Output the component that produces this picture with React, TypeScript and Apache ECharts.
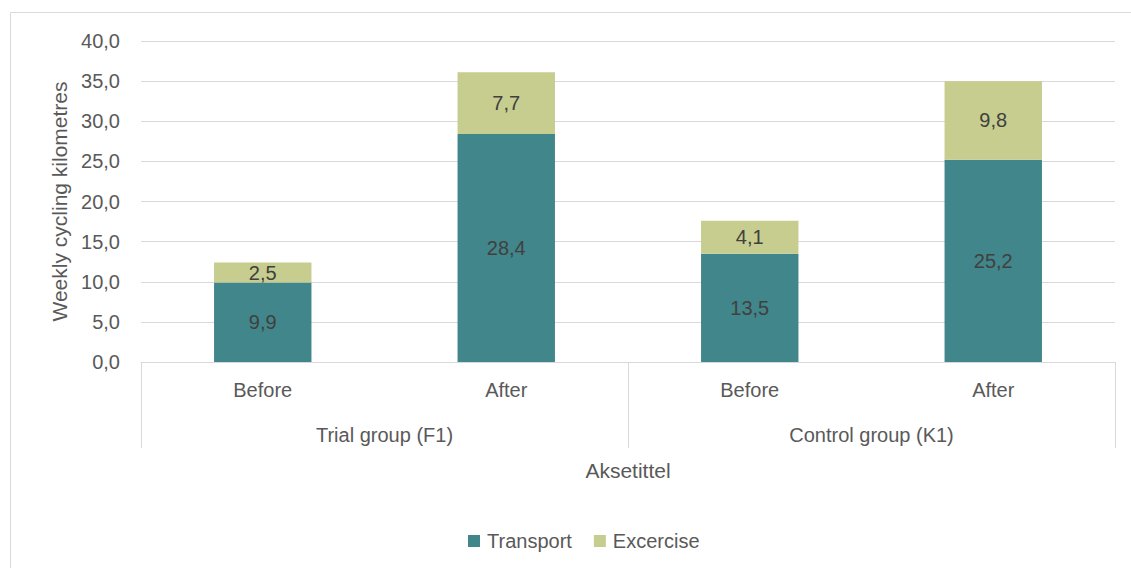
import React, { useEffect, useRef } from "react";
import * as echarts from "echarts";

const periods = ["Before", "After", "Before", "After"];
const groups = ["Trial group (F1)", "Control group (K1)"];
const transport = [9.9, 28.4, 13.5, 25.2];
const exercise = [2.5, 7.7, 4.1, 9.8];
const seriesNames = ["Transport", "Excercise"];

const FONT = "'Liberation Sans Narrow', 'Arial Narrow', 'Liberation Sans', sans-serif";
const TEXT = "#595959";
const LABEL = "#404040";
const GRID = "#d9d9d9";
const TEAL = "#40868a";
const OLIVE = "#c6cd8f";

const comma = (v: number) => v.toFixed(1).replace(".", ",");

export default function App() {
  const ref = useRef<HTMLDivElement>(null);

  useEffect(() => {
    if (!ref.current) return;
    const chart = echarts.init(ref.current, null, { renderer: "svg" });
    chart.setOption({
      animation: false,
      backgroundColor: "#ffffff",
      textStyle: { fontFamily: FONT },
      graphic: [
        {
          type: "rect",
          shape: { x: 10.5, y: 12.5, width: 1140, height: 580 },
          style: { fill: "none", stroke: GRID, lineWidth: 1 },
          silent: true,
        },
      ],
      grid: { left: 141, right: 16, top: 41, bottom: 206 },
      legend: {
        bottom: 12,
        left: 463,
        icon: "rect",
        itemWidth: 12,
        itemHeight: 12,
        itemGap: 22,
        textStyle: {
          color: TEXT,
          fontSize: 20,
          fontFamily: FONT,
          padding: [0, 0, 0, 2],
        },
        data: seriesNames,
      },
      xAxis: [
        {
          type: "category",
          data: periods,
          position: "bottom",
          axisLine: { show: true, lineStyle: { color: GRID, width: 1 } },
          axisTick: { show: false },
          axisLabel: { color: TEXT, fontSize: 20, fontFamily: FONT, margin: 18 },
          name: "Aksetittel",
          nameLocation: "middle",
          nameGap: 98,
          nameTextStyle: { color: TEXT, fontSize: 21, fontFamily: FONT },
        },
        {
          // group row: ticks mark the boundaries between the two groups
          type: "category",
          data: groups,
          position: "bottom",
          axisLine: { show: false },
          axisTick: {
            show: true,
            interval: 0,
            length: 86,
            lineStyle: { color: GRID, width: 1 },
          },
          axisLabel: { color: TEXT, fontSize: 20, fontFamily: FONT, margin: 63 },
          splitLine: { show: false },
        },
      ],
      yAxis: {
        type: "value",
        min: 0,
        max: 40,
        interval: 5,
        axisLine: { show: false },
        axisTick: { show: false },
        splitLine: { lineStyle: { color: GRID, width: 1 } },
        axisLabel: {
          color: TEXT,
          fontSize: 20,
          fontFamily: FONT,
          margin: 21,
          formatter: (v: number) => comma(v),
        },
        name: "Weekly cycling kilometres",
        nameLocation: "middle",
        nameGap: 71,
        nameTextStyle: { color: TEXT, fontSize: 21, fontFamily: FONT },
      },
      series: [
        {
          name: seriesNames[0],
          type: "bar",
          stack: "total",
          xAxisIndex: 0,
          barWidth: "40%",
          data: transport,
          itemStyle: { color: TEAL },
          label: {
            show: true,
            position: "inside",
            color: LABEL,
            fontSize: 20,
            fontFamily: FONT,
            formatter: (p: any) => comma(p.value),
          },
        },
        {
          name: seriesNames[1],
          type: "bar",
          stack: "total",
          xAxisIndex: 0,
          barWidth: "40%",
          data: exercise,
          itemStyle: { color: OLIVE },
          label: {
            show: true,
            position: "inside",
            color: LABEL,
            fontSize: 20,
            fontFamily: FONT,
            formatter: (p: any) => comma(p.value),
          },
        },
      ],
    });
    return () => chart.dispose();
  }, []);

  return (
    <div
      ref={ref}
      style={{ position: "fixed", left: 0, top: 0, width: 1131, height: 568 }}
    />
  );
}
